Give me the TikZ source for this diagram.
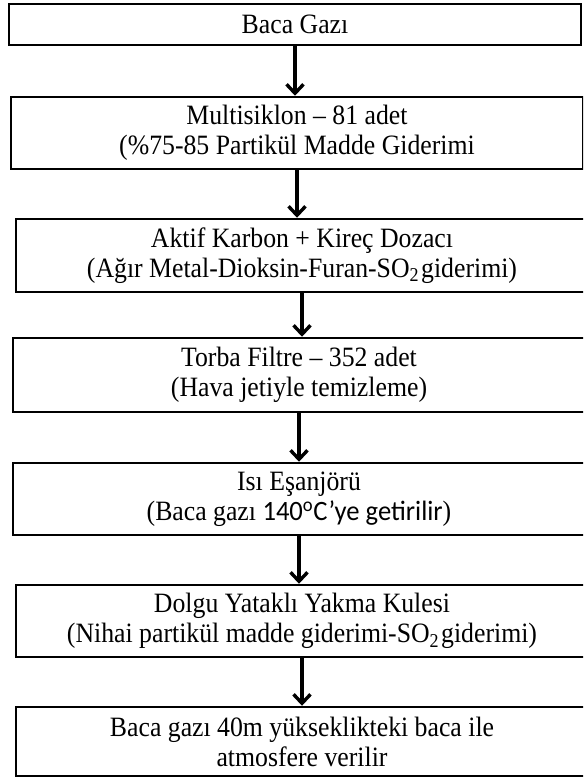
\documentclass[tikz,border=0pt]{standalone}
\usepackage{fontspec}
\setmainfont[FakeStretch=0.92]{Liberation Serif}
\newfontfamily\carlito[FakeStretch=0.95]{Carlito}
\usetikzlibrary{arrows.meta}
\begin{document}
\begin{tikzpicture}[x=1pt,y=1pt,
  box/.style={draw=black, line width=2.5pt, rectangle, inner sep=0pt, align=center,
    minimum width=572pt, font=\fontsize{28}{30}\selectfont},
  flow/.style={line width=3.4pt, -{Straight Barb[length=9pt,width=17pt,line width=3.4pt]}}]
\useasboundingbox (0,0) rectangle (583,-778);
\fill[white] (0,0) rectangle (583,-778);
\begin{scope}
\clip (0,0) rectangle (583,-778);
\node[box, minimum height=41pt] (b1) at (295,-24.5) {Baca Gazı};
\node[box, minimum height=72pt] (b2) at (297,-133) {Multisiklon – 81 adet\\(\%75-85 Partikül Madde Giderimi};
\node[box, minimum height=73pt] (b3) at (302,-255.5) {Aktif Karbon + Kireç Dozacı\\(Ağır Metal-Dioksin-Furan-SO\textsubscript{2}\hspace{2pt}giderimi)};
\node[box, minimum height=74pt] (b4) at (299,-375) {Torba Filtre – 352 adet\\(Hava jetiyle temizleme)};
\node[box, minimum height=72pt] (b5) at (299,-499) {Isı Eşanjörü\\(Baca gazı {\carlito 140\textsuperscript{o}C’ye getirilir})};
\node[box, minimum height=72pt] (b6) at (302,-621) {Dolgu Yataklı Yakma Kulesi\\(Nihai partikül madde giderimi-SO\textsubscript{2}\hspace{2pt}giderimi)};
\node[box, minimum height=69pt] (b7) at (302,-741.5) {Baca gazı 40m yükseklikteki baca ile\\atmosfere verilir};
\draw[flow] (b1.south) -- (b1.south |- b2.north);
\draw[flow] (b2.south) -- (b2.south |- b3.north);
\draw[flow] (b3.south) -- (b3.south |- b4.north);
\draw[flow] (b4.south) -- (b4.south |- b5.north);
\draw[flow] (b5.south) -- (b5.south |- b6.north);
\draw[flow] (b6.south) -- (b6.south |- b7.north);
\end{scope}
\end{tikzpicture}
\end{document}
